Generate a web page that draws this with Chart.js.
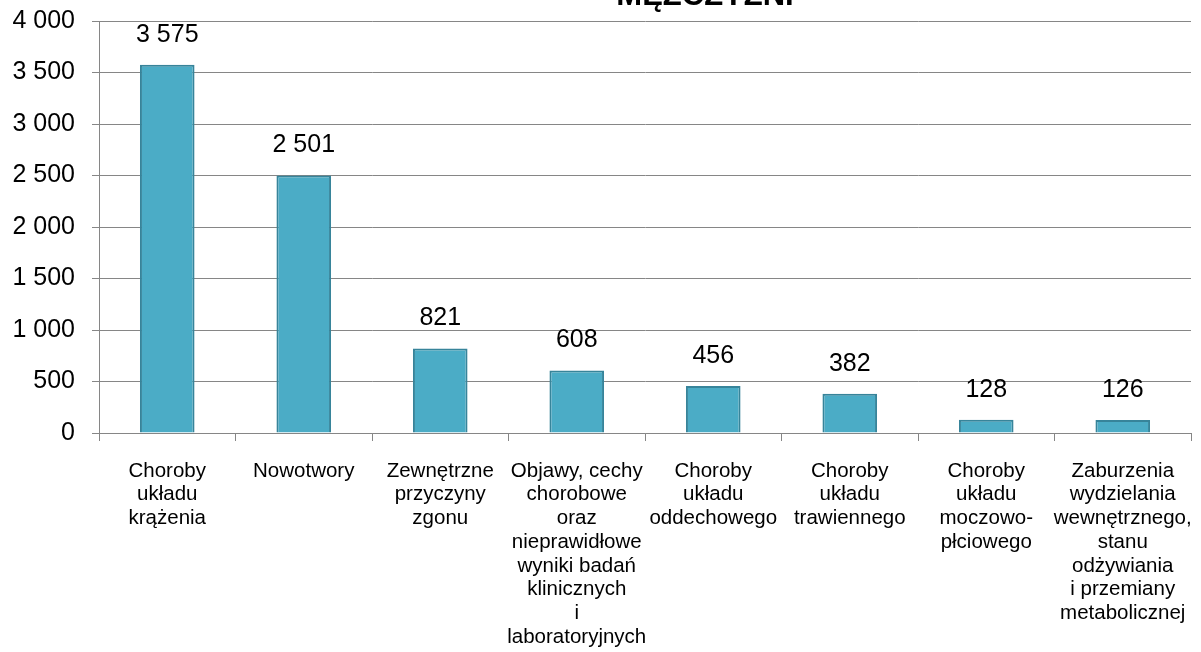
<!DOCTYPE html>
<html>
<head>
<meta charset="utf-8">
<script src="https://cdn.jsdelivr.net/npm/chart.js@4.4.1/dist/chart.umd.min.js"></script>
<style>
  html, body { margin: 0; padding: 0; background: #fff; }
  #wrap { width: 1201px; height: 652px; }
</style>
</head>
<body>
<div id="wrap"><canvas id="chart"></canvas></div>
<script>
const title = "MĘŻCZYŹNI";
const categories = [
  ["Choroby", "układu", "krążenia"],
  ["Nowotwory"],
  ["Zewnętrzne", "przyczyny", "zgonu"],
  ["Objawy, cechy", "chorobowe", "oraz", "nieprawidłowe", "wyniki badań", "klinicznych", "i", "laboratoryjnych"],
  ["Choroby", "układu", "oddechowego"],
  ["Choroby", "układu", "trawiennego"],
  ["Choroby", "układu", "moczowo-", "płciowego"],
  ["Zaburzenia", "wydzielania", "wewnętrznego,", "stanu", "odżywiania", "i przemiany", "metabolicznej"],
];
const deaths = [3575, 2501, 821, 608, 456, 382, 128, 126];
const yMax = 4000;
const yStep = 500;

const FONT = "'Liberation Sans', Arial, sans-serif";
const GRID = "#868686";

// thousands separated by a space, like the original
function fmt(v) {
  return String(v).replace(/\B(?=(\d{3})+(?!\d))/g, " ");
}

const titlePlugin = {
  id: "topTitle",
  afterDraw(chart) {
    const ctx = chart.ctx;
    ctx.save();
    ctx.font = "bold 31px " + FONT;
    ctx.fillStyle = "#000";
    ctx.textAlign = "center";
    ctx.textBaseline = "alphabetic";
    ctx.fillText(title, 705, 5);
    ctx.restore();
  },
};

const valueLabels = {
  id: "valueLabels",
  afterDatasetsDraw(chart) {
    const ctx = chart.ctx;
    const meta = chart.getDatasetMeta(0);
    ctx.save();
    ctx.font = "25px " + FONT;
    ctx.fillStyle = "#000";
    ctx.textAlign = "center";
    ctx.textBaseline = "middle";
    meta.data.forEach((bar, i) => {
      ctx.fillText(fmt(deaths[i]), bar.x, bar.y - 30);
    });
    ctx.restore();
  },
};

new Chart(document.getElementById("chart"), {
  type: "bar",
  data: {
    labels: categories,
    datasets: [
      {
        data: deaths,
        backgroundColor: "#4BACC6",
        borderColor: "#37849A",
        borderWidth: 2,
        barPercentage: 0.4,
        categoryPercentage: 1,
      },
    ],
  },
  options: {
    responsive: true,
    maintainAspectRatio: false,
    animation: false,
    layout: { padding: { top: 21, right: 10, left: 0, bottom: 0 } },
    plugins: {
      legend: { display: false },
      tooltip: { enabled: false },
      title: { display: false },
    },
    scales: {
      x: {
        offset: true,
        grid: {
          offset: true,
          drawOnChartArea: false,
          tickLength: 8,
          color: GRID,
        },
        border: { color: GRID, width: 1 },
        ticks: {
          color: "#000",
          font: { family: FONT, size: 20.5, lineHeight: 1.16 },
          maxRotation: 0,
          minRotation: 0,
          autoSkip: false,
          padding: 18,
        },
        afterFit(scale) {
          scale.height = 219;
          scale.paddingLeft = 0;
          scale.paddingRight = 0;
        },
      },
      y: {
        min: 0,
        max: yMax,
        grid: { color: GRID, tickLength: 7 },
        border: { color: GRID, width: 1 },
        ticks: {
          stepSize: yStep,
          color: "#000",
          font: { family: FONT, size: 25 },
          padding: 17,
          callback: (v) => fmt(v),
        },
        afterFit(scale) {
          scale.width = 99;
          scale.paddingTop = 0;
          scale.paddingBottom = 0;
        },
      },
    },
  },
  plugins: [titlePlugin, valueLabels],
});
</script>
</body>
</html>
